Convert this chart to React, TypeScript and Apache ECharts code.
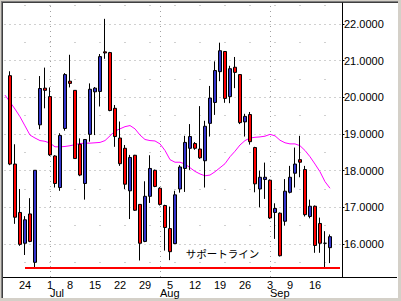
import { useEffect, useRef } from 'react';
import * as echarts from 'echarts';

// Trading days (2002), one category per slot; first and last two slots carry no candle
const dates = [
  '06/18','06/19','06/20','06/21','06/24','06/25','06/26','06/27','06/28',
  '07/01','07/02','07/03','07/05','07/08','07/09','07/10','07/11','07/12','07/15','07/16','07/17','07/18','07/19',
  '07/22','07/23','07/24','07/25','07/26','07/29','07/30','07/31',
  '08/01','08/02','08/05','08/06','08/07','08/08','08/09','08/12','08/13','08/14','08/15','08/16','08/19','08/20',
  '08/21','08/22','08/23','08/26','08/27','08/28','08/29','08/30',
  '09/03','09/04','09/05','09/06','09/09','09/10','09/11','09/12','09/13','09/16','09/17','09/18','09/19','09/20','09/23'
];

const weekTicks = ['06/24','07/01','07/08','07/15','07/22','07/29','08/05','08/12','08/19','08/26','09/03','09/09','09/16'];
const monthStarts = ['07/01','08/01','09/03'];
const monthNames = ['Jul','Aug','Sep'];

const opens: (number | string)[] = ['-',
  20.59, 18.18, 16.86, 16.02, 16.82, 15.50, 19.25, 20.25, 20.02, 18.40,
  17.54, 19.15, 20.44, 20.19, 18.72, 17.65, 18.99, 20.15, 20.16, 21.24,
  21.22, 19.70, 18.89, 18.61, 17.45, 18.42, 17.08, 16.07, 17.30, 18.01,
  17.52, 17.05, 16.42, 16.01, 17.50, 18.06, 18.61, 18.74, 18.59, 18.27,
  19.29, 19.86, 20.70, 21.25, 20.02, 20.82, 20.62, 19.33, 19.53, 18.63,
  17.50, 17.76, 17.74, 16.86, 16.84, 16.62, 17.41, 17.93, 18.30, 18.03,
  16.75, 17.03, 16.56, 16.02, 15.90
];
const closes: (number | string)[] = ['-',
  18.18, 16.73, 15.99, 16.66, 16.07, 18.01, 20.24, 20.19, 18.43, 17.65,
  18.96, 20.62, 20.38, 18.33, 17.88, 18.85, 20.22, 20.25, 21.11, 21.21,
  19.64, 18.93, 18.19, 17.63, 18.36, 16.92, 16.02, 17.30, 18.06, 17.57,
  17.08, 16.45, 15.79, 17.34, 18.10, 18.77, 18.93, 18.61, 18.35, 19.21,
  19.98, 20.73, 21.27, 19.97, 20.78, 20.68, 19.31, 19.48, 18.79, 17.64,
  17.82, 17.82, 16.71, 16.97, 15.68, 17.44, 17.82, 18.18, 18.23, 16.80,
  17.03, 15.96, 16.02, 16.02, 16.20
];
const lows: (number | string)[] = ['-',
  18.15, 16.55, 15.95, 15.70, 16.05, 15.33, 19.13, 19.70, 18.40, 17.54,
  17.45, 19.09, 20.27, 18.33, 17.85, 17.21, 18.79, 18.97, 19.75, 21.05,
  19.62, 18.65, 18.13, 17.50, 16.68, 16.90, 15.55, 16.05, 17.12, 17.55,
  17.05, 15.82, 15.56, 16.00, 17.40, 17.42, 18.02, 18.57, 18.32, 17.54,
  18.93, 19.52, 20.44, 19.85, 19.84, 20.25, 19.27, 18.93, 18.71, 17.41,
  17.00, 17.23, 16.68, 16.14, 15.66, 16.50, 17.38, 17.54, 17.82, 16.75,
  16.70, 15.76, 15.76, 15.34, 15.48
];
const highs: (number | string)[] = ['-',
  20.71, 18.72, 17.50, 16.76, 17.25, 18.01, 20.58, 20.81, 20.27, 18.42,
  19.02, 20.66, 21.16, 20.19, 18.88, 18.85, 20.38, 20.28, 21.18, 22.14,
  21.24, 19.79, 19.34, 18.70, 18.43, 18.43, 17.08, 17.71, 18.42, 18.03,
  17.55, 17.07, 17.02, 17.45, 18.15, 18.95, 19.27, 18.78, 19.76, 19.36,
  20.31, 20.98, 21.49, 21.26, 20.86, 21.10, 20.63, 19.55, 19.60, 18.65,
  18.00, 18.22, 17.76, 17.11, 16.86, 17.77, 18.13, 18.63, 18.95, 18.13,
  17.21, 17.05, 16.72, 16.35, 16.26
];

const movingAverage = [
  20.06, 19.87, 19.68, 19.47, 19.22, 18.97, 18.89, 18.82, 18.80, 18.75,
  18.65, 18.65, 18.66, 18.68, 18.71, 18.74, 18.75, 18.75, 18.76, 18.77,
  18.82, 18.95, 19.08, 19.14, 19.20, 19.23, 19.14, 18.97, 18.85, 18.82,
  18.81, 18.73, 18.55, 18.30, 18.23, 18.23, 18.18, 18.08, 17.98, 17.91,
  17.86, 17.88, 17.97, 18.08, 18.19, 18.38, 18.53, 18.70, 18.82, 18.89,
  18.91, 18.92, 18.94, 18.99, 18.95, 18.83, 18.76, 18.73, 18.73, 18.68,
  18.55, 18.38, 18.18, 17.97, 17.70, 17.52
];

const supportLevel = 15.36;
const supportStart = '06/24';
const supportLabel = 'サポートライン';

const yMajorLines = [16, 17, 18, 19, 20, 21, 22];
const yMinorLines = [15.5, 16.5, 17.5, 18.5, 19.5, 20.5, 21.5, 22.5];
const yMin = 15.1;
const yMax = 22.572;

const FONT = '"Liberation Sans", Arial, Helvetica, sans-serif';

export default function App() {
  const ref = useRef<HTMLDivElement>(null);

  useEffect(() => {
    document.body.style.margin = '0';
    if (!ref.current) return;
    const chart = echarts.init(ref.current, undefined, { renderer: 'svg' });

    const candles = opens.map((o, i) =>
      o === '-' ? ['-', '-', '-', '-'] : [o, closes[i], lows[i], highs[i]]
    );

    const gridColor = '#a0a0a0';
    const gridLines: any[] = [
      ...yMinorLines.map((v) => ({ yAxis: v, lineStyle: { color: gridColor, width: 1, type: [1, 24], dashOffset: 3 } })),
      ...yMajorLines.map((v) => ({ yAxis: v, lineStyle: { color: gridColor, width: 1, type: [1, 4], dashOffset: 3 } })),
      ...monthStarts.map((d) => ({ xAxis: d, lineStyle: { color: gridColor, width: 1, type: [1, 4] } })),
    ];

    const option: any = {
      animation: false,
      grid: { left: 2.5, top: 3, width: 340, height: 274 },
      xAxis: [
        {
          type: 'category',
          data: dates,
          boundaryGap: true,
          axisLine: { show: false },
          axisTick: { show: false },
          splitLine: { show: false },
          axisLabel: {
            interval: (_i: number, v: string) => weekTicks.includes(v),
            formatter: (v: string) => String(parseInt(v.slice(3), 10)),
            color: '#000',
            fontSize: 11,
            lineHeight: 8,
            fontFamily: FONT,
            margin: 4,
          },
        },
        {
          type: 'category',
          data: dates,
          boundaryGap: true,
          position: 'bottom',
          offset: 8.3,
          axisLine: { show: false },
          axisTick: { show: false },
          splitLine: { show: false },
          axisLabel: {
            interval: (_i: number, v: string) => monthStarts.includes(v),
            formatter: (v: string) => monthNames[monthStarts.indexOf(v)] || '',
            align: 'left',
            color: '#000',
            fontSize: 11,
            lineHeight: 8,
            fontFamily: FONT,
            margin: 4,
          },
        },
      ],
      yAxis: {
        type: 'value',
        position: 'right',
        min: yMin,
        max: yMax,
        splitNumber: 7,
        axisLine: { show: true, lineStyle: { color: '#000', width: 1 } },
        axisTick: { show: true, length: 2, lineStyle: { color: '#000' } },
        splitLine: { show: false },
        axisLabel: {
          showMinLabel: false,
          showMaxLabel: false,
          formatter: (v: number) => (Math.abs(v - Math.round(v)) < 1e-6 ? v.toFixed(4) : ''),
          color: '#000',
          fontSize: 11,
          fontFamily: FONT,
          margin: 1.5,
        },
      },
      series: [
        {
          type: 'line',
          name: 'MA',
          data: movingAverage,
          symbol: 'none',
          silent: true,
          z: 2,
          lineStyle: { color: '#ff00ff', width: 1 },
          markLine: {
            z: 1,
            silent: true,
            animation: false,
            symbol: ['none', 'none'],
            label: { show: false },
            data: gridLines,
          },
        },
        {
          type: 'candlestick',
          name: 'price',
          data: candles,
          barWidth: 3.5,
          z: 3,
          itemStyle: {
            color: '#3333cc',
            color0: '#ff0000',
            borderColor: '#000000',
            borderColor0: '#000000',
            borderWidth: 1,
          },
          markLine: {
            z: 10,
            silent: true,
            animation: false,
            symbol: ['none', 'none'],
            label: { show: false },
            lineStyle: { color: '#ff0000', width: 2, type: 'solid' },
            data: [[
              { coord: [supportStart, supportLevel] },
              { coord: [dates[dates.length - 1], supportLevel] },
            ]],
          },
        },
      ],
      graphic: [
        {
          type: 'line',
          z: 100,
          silent: true,
          shape: { x1: 3, y1: 277.5, x2: 397, y2: 277.5 },
          style: { stroke: '#000', lineWidth: 1 },
        },
        {
          type: 'text',
          z: 100,
          silent: true,
          style: {
            text: supportLabel,
            x: 222.5,
            y: 253,
            fill: '#000',
            font: '10.5px "Noto Sans CJK JP", sans-serif',
            align: 'center',
            verticalAlign: 'middle',
            textAlign: 'center',
            textVerticalAlign: 'middle',
          },
        },
      ],
    };

    chart.setOption(option);
    return () => chart.dispose();
  }, []);

  return (
    <div style={{ position: 'relative', width: 401, height: 301, background: '#d4d0c8', overflow: 'hidden' }}>
      <style>{'body{margin:0}'}</style>
      <div style={{ position: 'absolute', left: 1, top: 1, width: 397, height: 297, background: '#808080' }} />
      <div style={{ position: 'absolute', left: 2, top: 2, width: 396, height: 296, background: '#404040' }} />
      <div style={{ position: 'absolute', left: 3, top: 3, width: 395, height: 295, background: '#ffffff' }} />
      <div ref={ref} style={{ position: 'absolute', left: 0, top: 0, width: 401, height: 301 }} />
    </div>
  );
}
